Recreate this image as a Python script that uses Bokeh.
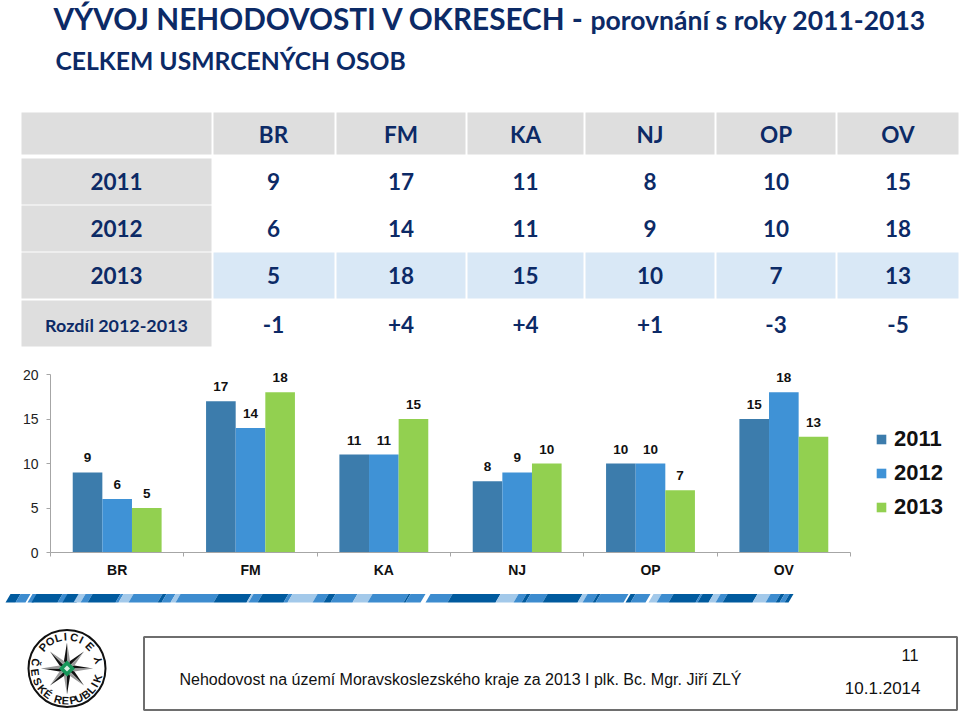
import math
from bokeh.core.properties import value
from bokeh.embed import file_html
from bokeh.layouts import column
from bokeh.models import FixedTicker, Legend, LegendItem, Range1d
from bokeh.plotting import figure
from bokeh.resources import INLINE

# ---- data ----
districts = ["BR", "FM", "KA", "NJ", "OP", "OV"]
years = ["2011", "2012", "2013"]
v2011 = [9, 17, 11, 8, 10, 15]
v2012 = [6, 14, 11, 9, 10, 18]
v2013 = [5, 18, 15, 10, 7, 13]
diff_label = "Rozdíl 2012-2013"
diff = ["-1", "+4", "+4", "+1", "-3", "-5"]
title_main = "VÝVOJ NEHODOVOSTI V OKRESECH - "
title_sub = "porovnání s roky 2011-2013"
subtitle = "CELKEM USMRCENÝCH OSOB"
footer = "Nehodovost na území Moravskoslezského kraje za 2013 I plk. Bc. Mgr. Jiří ZLÝ"
page_no = "11"
date_str = "10.1.2014"

# ---- styles / layout ----
NAVY = "#0c2a66"
GREY = "#dedede"
PALE = "#d9e8f6"
BAR = ["#3c7cac", "#3f92d6", "#92d050"]
col_edges = [(21, 211), (213, 334), (336, 465), (467, 583), (585, 714), (716, 835), (837, 958)]
row_edges = [(112, 154), (158, 204), (205, 251), (252, 298), (300, 346)]
W = 959


def px_fig(y0, y1):
    f = figure(width=W, height=y1 - y0, x_range=Range1d(0, W), y_range=Range1d(y1, y0),
               x_axis_location=None, y_axis_location=None, toolbar_location=None,
               output_backend="svg", min_border=0, outline_line_color=None, frame_align=False)
    f.grid.visible = False
    return f


def txt(f, x, y, s, size, color=NAVY, font="Lato", style="bold", align="center", angle=0):
    f.text([x], [y], text=[s], text_font=value(font), text_font_size=size, text_font_style=style,
           text_color=color, text_align=align, text_baseline="middle", angle=angle)


# ---- top: titles and table ----
top = px_fig(0, 360)
txt(top, 53, 18, title_main, "29.7px", align="left")
txt(top, 590, 19.5, title_sub, "26.5px", align="left")
txt(top, 55, 60, subtitle, "24.7px", align="left")


def cell(r, c, color):
    (x0, x1), (y0, y1) = col_edges[c], row_edges[r]
    top.quad(left=x0, right=x1, top=y0, bottom=y1, fill_color=color, line_color=None)


def center(c):
    return sum(col_edges[c]) / 2


rows = [districts, v2011, v2012, v2013, diff]
labels = ["", years[0], years[1], years[2], diff_label]
for r, vals in enumerate(rows):
    ym = sum(row_edges[r]) / 2 + (1 if r in (0, 4) else 0)
    cell(r, 0, GREY)
    if labels[r]:
        txt(top, center(0), ym, labels[r], "22.5px" if r < 4 else "17.9px")
    for c, v in enumerate(vals, start=1):
        if r == 0:
            cell(r, c, GREY)
        elif r == 3:
            cell(r, c, PALE)
        txt(top, center(c) if c > 1 else 273, ym, str(v), "22.5px")

# ---- middle: bar chart ----
FONT = value("Liberation Sans")
GROUP_PX = 800 / 6
UNIT_PX = 178 / 20
ch = figure(width=W, height=225, x_range=Range1d(0, (W - 50) / GROUP_PX), y_range=Range1d(0, 188 / UNIT_PX),
            toolbar_location=None, output_backend="svg", outline_line_color=None, frame_align=False,
            min_border_left=50, min_border_right=0, min_border_top=4, min_border_bottom=33)
ch.grid.visible = False
items = []
for k, (yr, vals) in enumerate(zip(years, [v2011, v2012, v2013])):
    xs = [i + 0.5 + (k - 1) * 0.2222 for i in range(len(districts))]
    rn = ch.vbar(x=xs, top=vals, width=0.2222, bottom=0, fill_color=BAR[k], line_color=None)
    ch.text(xs, vals, text=[str(v) for v in vals], text_font=FONT, text_font_size="13.5px",
            text_font_style="bold", text_color="#111111", text_align="center",
            text_baseline="middle", y_offset=-14.5)
    items.append(LegendItem(label=yr, renderers=[rn]))

ax = ch.xaxis[0]
ax.bounds = (0, 6)
ax.ticker = FixedTicker(ticks=[i + 0.5 for i in range(6)], minor_ticks=list(range(7)))
ax.major_label_overrides = {i + 0.5: d for i, d in enumerate(districts)}
ax.major_tick_line_color = None
ax.minor_tick_in = 0
ax.minor_tick_out = 4
ax.minor_tick_line_color = "#a6a6a6"
ax.axis_line_color = "#a6a6a6"
ax.major_label_text_font = "Liberation Sans"
ax.major_label_text_font_size = "14px"
ax.major_label_text_font_style = "bold"
ax.major_label_text_color = "#111111"
ax.major_label_standoff = 3
ay = ch.yaxis[0]
ay.bounds = (0, 20)
ay.ticker = FixedTicker(ticks=[0, 5, 10, 15, 20])
ay.minor_tick_line_color = None
ay.major_tick_in = 0
ay.major_tick_out = 4
ay.major_tick_line_color = "#a6a6a6"
ay.axis_line_color = "#a6a6a6"
ay.major_label_text_font = "Liberation Sans"
ay.major_label_text_font_size = "14px"
ay.major_label_text_color = "#222222"
ay.major_label_standoff = 8

leg = Legend(items=items, location=(825, 32), orientation="vertical", background_fill_alpha=0,
             border_line_color=None, glyph_width=12, glyph_height=12, label_text_font="Liberation Sans",
             label_text_font_size="22px", label_text_font_style="bold", label_text_color="#111111",
             spacing=8, padding=0, margin=0, label_standoff=7)
ch.add_layout(leg, "center")

# ---- bottom: stripe, logo, footer ----
bt = px_fig(585, 711)
D, M, L = "#005a9e", "#3d8ccf", "#a3c9ea"
stripe = [(5, 15, D), (15, 25, M), (27, 33, M), (31, 57, D), (57, 63, M), (62, 76, D), (73, 80, L), (80, 87, M),
          (87, 115, D), (115, 118, M), (118, 128, L), (128, 157, M), (157, 161, D), (161, 170, M), (170, 175, L),
          (175, 213, M), (213, 246, D), (246, 248, L), (248, 257, M), (257, 283, D), (283, 287, M), (287, 312, L),
          (312, 323, M), (323, 330, D), (330, 352, M), (352, 367, L), (367, 403, M), (403, 405, D), (405, 420, M),
          (425, 447, M), (447, 495, D), (495, 513, L), (513, 521, M), (521, 525, D), (525, 542, M), (542, 577, D),
          (577, 582, L), (582, 592, M), (592, 595, D), (595, 623, M), (625, 630, D), (630, 645, M), (648, 656, L),
          (656, 668, M), (668, 695, D), (695, 697, M), (697, 708, D), (708, 715, L), (715, 722, M), (722, 752, D),
          (752, 765, L), (765, 775, M), (775, 779, D), (779, 784, M), (784, 788, D)]
bt.patches([[a, b, b + 5, a + 5] for a, b, _ in stripe], [[602, 602, 593.5, 593.5] for _ in stripe],
           fill_color=[c for _, _, c in stripe], line_color=None)

bt.quad(left=143.5, right=956.5, top=636.5, bottom=709.5, fill_color=None, line_color="#6e6e6e", line_width=2)
txt(bt, 179, 679, footer, "16px", color="#111111", font="Liberation Sans", style="normal", align="left")
txt(bt, 918, 654, page_no, "16.3px", color="#111111", font="Liberation Sans", style="normal", align="right")
txt(bt, 920, 687, date_str, "17px", color="#111111", font="Liberation Sans", style="normal", align="right")

# logo
cx, cy = 66.5, 668
bt.circle([cx], [cy], radius=38.5, fill_color="white", line_color="#111111", line_width=2)
for i in range(16):
    a = math.radians(i * 22.5)
    ln = 26 if i % 4 == 0 else (24 if i % 2 == 0 else 0)
    if not ln:
        continue
    for side, col in ((-1, "#111111"), (1, "#9a9a9a")):
        b = a + side * math.radians(22.5)
        bt.patch([cx + ln * math.sin(a), cx + 8 * math.sin(b), cx],
                 [cy - ln * math.cos(a), cy - 8 * math.cos(b), cy], fill_color=col, line_color=None)
bt.patch([cx, cx + 8, cx, cx - 8], [cy - 8, cy, cy + 8, cy], fill_color="#17975a", line_color=None)
bt.patch([cx, cx + 3, cx, cx - 3], [cy - 3, cy, cy + 3, cy], fill_color="#d8efe2", line_color=None)
top_letters = list(zip("POLICIE", [-48, -32, -16, -3, 13, 27, 46]))
bot_letters = list(zip("ČESKÉREPUBLIKY", [-101, -83, -66, -50, -37, -16, -3, 11, 22, 36, 49, 59, 72, 105]))
for ch_, deg in top_letters:
    a = math.radians(deg)
    txt(bt, cx + 32 * math.sin(a), cy - 32 * math.cos(a), ch_, "11px", color="#111111",
        font="Liberation Sans", angle=-math.radians(deg))
for ch_, deg in bot_letters:
    a = math.radians(deg)
    txt(bt, cx + 32 * math.sin(a), cy + 32 * math.cos(a), ch_, "11px", color="#111111",
        font="Liberation Sans", angle=math.radians(deg))

page = column(top, ch, bt, spacing=0)
open("out.html", "w").write(file_html(page, INLINE))
